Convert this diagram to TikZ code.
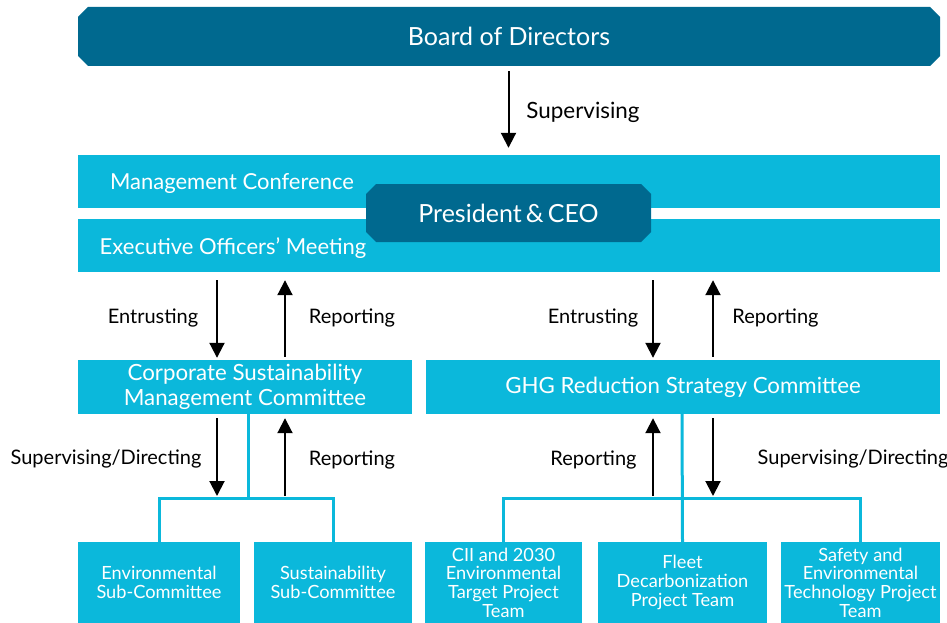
\documentclass[tikz,border=0pt]{standalone}
\usepackage{fontspec}
\setmainfont{Lato}
\usetikzlibrary{arrows.meta,positioning}
\definecolor{deepteal}{HTML}{00698F}
\definecolor{skyteal}{HTML}{0BB8DB}
\tikzset{chamfer/.style={
            path picture={
                \fill[deepteal] ([xshift=10pt]path picture bounding box.north west)
                    -- ([xshift=-10pt]path picture bounding box.north east)
                    -- ([yshift=-10pt]path picture bounding box.north east)
                    -- ([yshift=10pt]path picture bounding box.south east)
                    -- ([xshift=-10pt]path picture bounding box.south east)
                    -- ([xshift=10pt]path picture bounding box.south west)
                    -- ([yshift=10pt]path picture bounding box.south west)
                    -- ([yshift=-10pt]path picture bounding box.north west) -- cycle;
            }
        },
        board/.style={
            chamfer,
            text=white,
            inner sep=0pt,
            minimum width=862pt,
            minimum height=59pt,
            font=\fontsize{25}{30}\selectfont
        },
        ceo/.style={
            chamfer,
            text=white,
            inner sep=0pt,
            minimum width=285pt,
            minimum height=58pt,
            font=\fontsize{25}{30}\selectfont
        },
        bar/.style={
            rectangle,
            fill=skyteal,
            inner sep=0pt,
            minimum width=862pt,
            minimum height=53pt
        },
        bartext/.style={
            text=white,
            inner sep=0pt,
            font=\fontsize{22}{26}\selectfont
        },
        unit/.style={
            rectangle,
            fill=skyteal,
            text=white,
            align=center,
            inner sep=0pt,
            minimum height=54pt,
            font=\fontsize{22.3}{24.5}\selectfont
        },
        team/.style={
            rectangle,
            fill=skyteal,
            text=white,
            align=center,
            inner sep=0pt,
            minimum height=81pt,
            font=\fontsize{18.2}{18.7}\selectfont
        },
        tag/.style={
            inner sep=0pt,
            font=\fontsize{20}{24}\selectfont
        },
        flow/.style={
            -{Triangle[length=15pt,width=15pt]},
            line width=2pt
        },
        link/.style={
            skyteal,
            line width=3pt
        }
    }
\begin{document}
\begin{tikzpicture}[x=1pt,y=-1pt]
        \useasboundingbox (0,0) rectangle (947,623);
        % board and top management
        \node[board] at (509,36.5) (board) {Board of Directors};
        \node[bar] at (509,181.5) (mc) {};
        \node[bar] at (509,245.5) (eo) {};
        \node[bartext] at (232,184) (mctext) {Management Conference};
        \node[bartext] at (233,248) (eotext) {Executive Officers’ Meeting};
        \node[ceo] at (508.5,213) (ceo) {President\,\&\,CEO};
        % committees
        \node[unit,minimum width=334pt] at (245,387) (csmc) {Corporate Sustainability\\Management Committee};
        \node[unit,minimum width=514pt] at (683,387) (ghg) {GHG Reduction Strategy Committee};
        % sub-committees and teams
        \node[team,minimum width=162pt] at (159,582.5) (env) {Environmental\\Sub-Committee};
        \node[team,minimum width=158pt] at (333,582.5) (sus) {Sustainability\\Sub-Committee};
        \node[team,minimum width=157pt] at (503.5,582.5) (cii) {CII and 2030\\Environmental\\Target Project\\Team};
        \node[team,minimum width=169pt] at (682.5,582.5) (fleet) {Fleet\\Decarbonization\\Project Team};
        \node[team,minimum width=159pt] at (860.5,582.5) (safety) {Safety and\\Environmental\\Technology Project\\Team};
        % tree lines
        \coordinate (lj) at (248,498);
        \coordinate (rj) at (682,498);
        \draw[link] (csmc.south -| lj) -- (lj);
        \draw[link] (env.north) |- (lj) -| (sus.north);
        \draw[link] (ghg.south -| rj) -- (fleet.north);
        \draw[link] (cii.north) |- (rj) -| (safety.north);
        % arrows
        \coordinate (a1) at (217,0);
        \coordinate (a2) at (285,0);
        \coordinate (a3) at (653,0);
        \coordinate (a4) at (713,0);
        \draw[flow,shorten <=5pt,shorten >=7pt] (board.south -| ceo) -- (mc.north -| ceo);
        \draw[flow,shorten <=8pt,shorten >=2pt] (eo.south -| a1) -- (csmc.north -| a1);
        \draw[flow,shorten <=3pt,shorten >=8pt] (csmc.north -| a2) -- (eo.south -| a2);
        \draw[flow,shorten <=8pt,shorten >=2pt] (eo.south -| a3) -- (ghg.north -| a3);
        \draw[flow,shorten <=3pt,shorten >=8pt] (ghg.north -| a4) -- (eo.south -| a4);
        \draw[flow,shorten <=4pt,shorten >=2pt] (csmc.south -| a1) -- (lj -| a1);
        \draw[flow,shorten <=2pt,shorten >=4pt] (lj -| a2) -- (csmc.south -| a2);
        \draw[flow,shorten <=2pt,shorten >=4pt] (rj -| a3) -- (ghg.south -| a3);
        \draw[flow,shorten <=4pt,shorten >=2pt] (ghg.south -| a4) -- (rj -| a4);
        % labels
        \node[tag,font=\fontsize{22.4}{26}\selectfont] at (583,112) (sup) {Supervising};
        \node[tag] at (153,318) (entl) {Entrusting};
        \node[tag] at (352,318) (repl) {Reporting};
        \node[tag] at (593,318) (entr) {Entrusting};
        \node[tag] at (775.5,318) (repr) {Reporting};
        \node[tag] at (106,459) (dirl) {Supervising/Directing};
        \node[tag] at (352,460) (replow) {Reporting};
        \node[tag] at (593.5,460) (reprlow) {Reporting};
        \node[tag] at (853,459) (dirr) {Supervising/Directing};
\end{tikzpicture}
\end{document}
